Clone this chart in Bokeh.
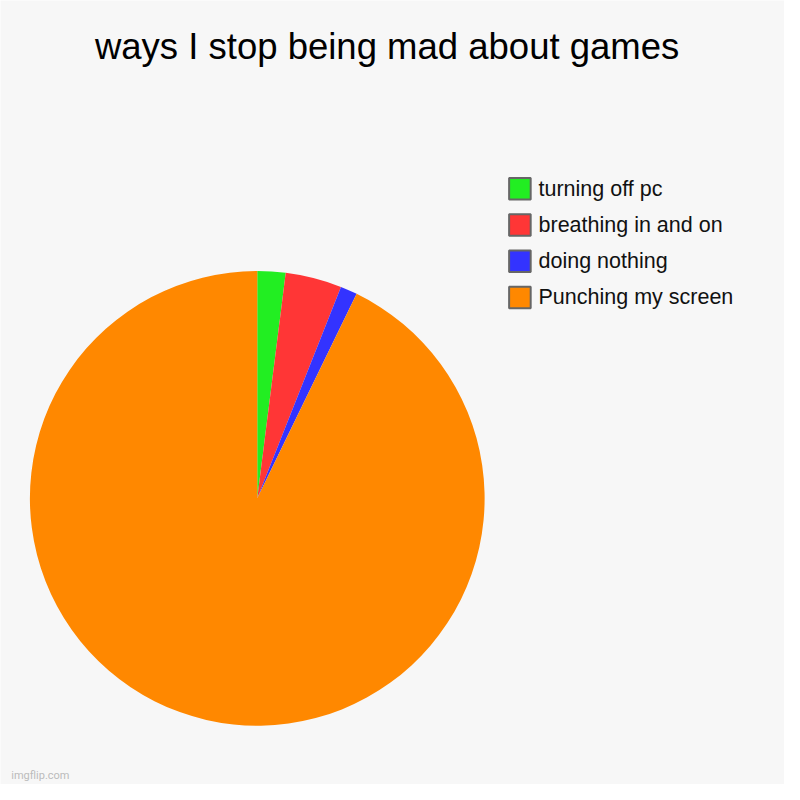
import numpy as np
from bokeh.models import ColumnDataSource, Range1d
from bokeh.plotting import figure
from bokeh.core.properties import value
from bokeh.embed import file_html
from bokeh.resources import INLINE

# slices, clockwise from the top
categories = ["turning off pc", "breathing in and on", "doing nothing", "Punching my screen"]
shares = [2.0, 4.0, 1.2, 92.8]
colors = ["#22ee22", "#ff3636", "#3333ff", "#ff8800"]

title_text = "ways I stop being mad about games"

# data space is the 800x800 reference, drawn on a 784x784 canvas
W, H = 784, 784
p = figure(width=W, height=H, output_backend="svg", toolbar_location=None,
           x_range=Range1d(0, 800), y_range=Range1d(0, 800),
           min_border=0, background_fill_color="#f7f7f7",
           border_fill_color="#f7f7f7")
p.axis.visible = False
p.grid.visible = False
p.outline_line_color = None

frac = np.array(shares) / sum(shares)
cum = np.cumsum(frac)
start = np.pi / 2 - 2 * np.pi * np.concatenate([[0], cum[:-1]])
end = np.pi / 2 - 2 * np.pi * cum

pie = ColumnDataSource(dict(start=start, end=end, color=colors, label=categories))
p.wedge(x=262, y=800 - 508, radius=232, start_angle="start", end_angle="end",
        direction="clock", fill_color="color", line_color=None, source=pie)

# legend
ly = [800 - (192 + 37 * i) for i in range(len(categories))]
leg = ColumnDataSource(dict(y=ly, color=colors, label=categories))
p.rect(x=530, y="y", width=22, height=22, fill_color="color",
       line_color="#666666", line_width=2, source=leg)
p.text(x=549, y="y", text="label", text_font=value("Liberation Sans"),
       text_font_size="21.5px", text_color="#111111", text_baseline="middle",
       source=leg)

# title
p.text(x=[394.5], y=[800 - 47], text=[title_text], text_font=value("Liberation Sans"),
       text_font_size="36.5px", text_color="#000000", text_align="center",
       text_baseline="middle")

# watermark
p.text(x=[11], y=[800 - 797], text=["imgflip.com"], text_font=value("Roboto"),
       text_font_size="11px", text_color="#bbbbbb", text_baseline="bottom")

open("out.html", "w").write(file_html(p, INLINE))
